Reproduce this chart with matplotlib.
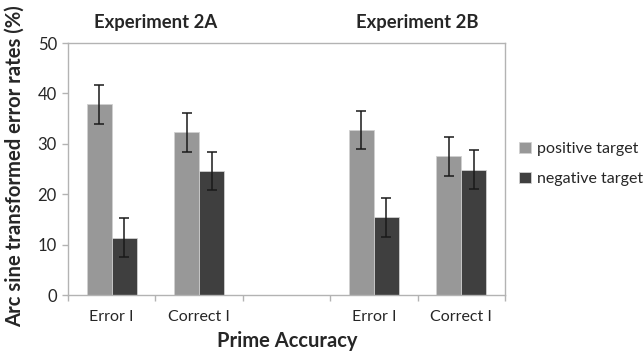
import matplotlib
matplotlib.use("Agg")
import matplotlib.pyplot as plt
import matplotlib.transforms as mtransforms
import numpy as np

plt.rcParams['font.family'] = ['Lato', 'DejaVu Sans']

# category slots (middle one left empty as a spacer between experiments)
categories = ['Error I', 'Correct I', '', 'Error I', 'Correct I']
positive = [37.8, 32.3, np.nan, 32.8, 27.5]
negative = [11.4, 24.6, np.nan, 15.4, 24.9]
positive_err = [3.85, 3.85, np.nan, 3.8, 3.8]
negative_err = [3.85, 3.8, np.nan, 3.8, 3.8]
experiments = ['Experiment 2A', 'Experiment 2B']
exp_centers = [0.5, 3.5]

POS_COLOR = '#989898'
NEG_COLOR = '#3f3f3f'
AXIS_COLOR = '#b3b3b3'
TEXT_COLOR = '#262626'

fig = plt.figure(figsize=(6.44, 3.56), dpi=100)
ax = fig.add_axes([68/644, 1 - 295/356, (505 - 68)/644, (295 - 43)/356])

x = np.arange(len(categories))
w = 0.284
ax.bar(x - w/2, positive, w, color=POS_COLOR, edgecolor='#d0d0d0', linewidth=0.6,
       yerr=positive_err, error_kw=dict(ecolor='#1a1a1a', elinewidth=1.1, capsize=3.5, capthick=1.1),
       label='positive target')
ax.bar(x + w/2, negative, w, color=NEG_COLOR, edgecolor='#d0d0d0', linewidth=0.6,
       yerr=negative_err, error_kw=dict(ecolor='#1a1a1a', elinewidth=1.1, capsize=3.5, capthick=1.1),
       label='negative target')

ax.set_xlim(-0.5, len(categories) - 0.5)
ax.set_ylim(0, 50)
ax.set_yticks(np.arange(0, 51, 10))
ax.set_xticks(x)
ax.set_xticklabels(categories)
ax.set_xticks(np.arange(-0.5, len(categories)), minor=True)
ax.tick_params(axis='x', which='major', length=0, pad=11, labelsize=11.5, labelcolor=TEXT_COLOR)
ax.tick_params(axis='x', which='minor', length=4, color=AXIS_COLOR, width=1, direction='out')
ax.tick_params(axis='y', length=4, color=AXIS_COLOR, width=1, pad=4, labelsize=12,
               labelcolor=TEXT_COLOR)

for s in ax.spines.values():
    s.set_color(AXIS_COLOR)
    s.set_linewidth(1)

# axis titles placed on the figure to match the reference positions
fig.text(15/644, 1 - 166/356, 'Arc sine transformed error rates (%)', rotation=90,
         ha='center', va='center', fontsize=14.6, fontweight='bold', color=TEXT_COLOR)
fig.text(287/644, 1 - 341/356, 'Prime Accuracy', ha='center', va='center',
         fontsize=14.5, fontweight='bold', color=TEXT_COLOR)

trans = mtransforms.blended_transform_factory(ax.transData, ax.transAxes)
for name, cx in zip(experiments, exp_centers):
    ax.text(cx, 1.083, name, transform=trans, ha='center', va='center',
            fontsize=13.3, fontweight='bold', color=TEXT_COLOR)

ax.legend(loc='center left', bbox_to_anchor=(1.0, 0.52), frameon=False, fontsize=11.5,
          handlelength=0.7, handleheight=0.7, handletextpad=0.4, labelspacing=1.0,
          labelcolor=TEXT_COLOR)

fig.savefig('out.png', dpi=100)
